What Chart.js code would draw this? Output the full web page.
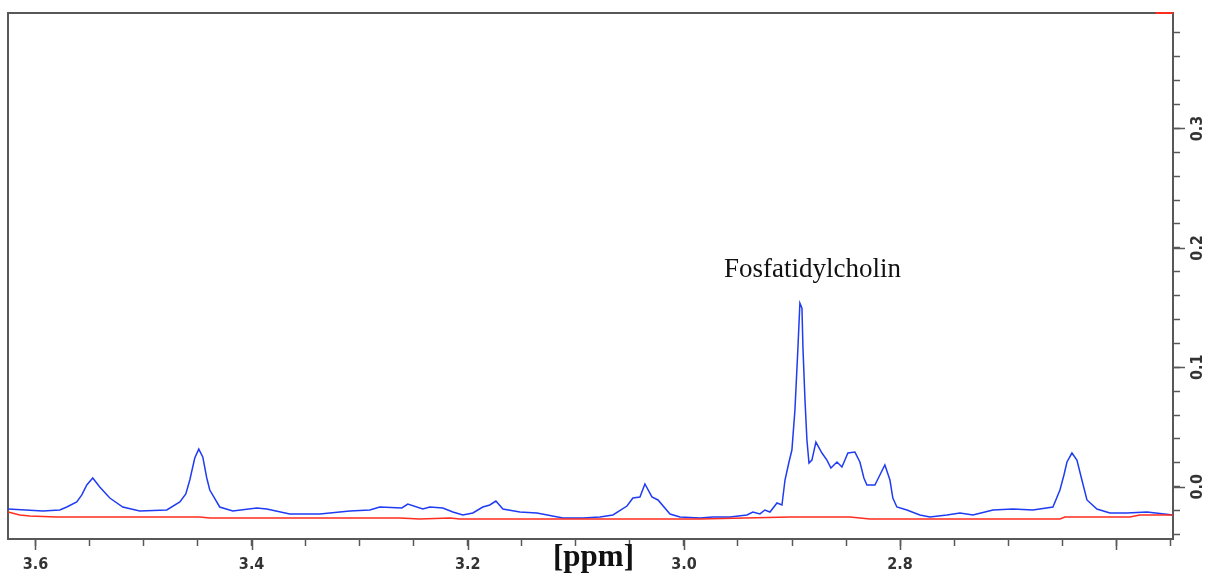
<!DOCTYPE html>
<html>
<head>
<meta charset="utf-8">
<title>NMR spektrum</title>
<script src="https://cdn.jsdelivr.net/npm/chart.js@4/dist/chart.umd.min.js"></script>
<style>
  html, body { margin: 0; padding: 0; background: #fff; }
  #wrap { width: 1210px; height: 577px; }
</style>
</head>
<body>
<div id="wrap"><canvas id="nmrChart" width="1210" height="577"></canvas></div>
<script>
// spektrum (modra) - chemicky posun v ppm a intenzita
const blueShift = [3.6254,3.5932,3.5775,3.5710,3.5618,3.5571,3.5525,3.5470,3.5405,3.5312,
  3.5192,3.5035,3.4785,3.4664,3.4609,3.4572,3.4526,3.4489,3.4452,3.4415,
  3.4387,3.4295,3.4174,3.3952,3.3860,3.3647,3.3369,3.3091,3.2906,3.2814,
  3.2610,3.2555,3.2416,3.2351,3.2231,3.2138,3.2046,3.1953,3.1861,3.1796,
  3.1740,3.1675,3.1518,3.1360,3.1120,3.0935,3.0777,3.0657,3.0527,3.0472,
  3.0407,3.0361,3.0296,3.0240,3.0129,3.0037,2.9852,2.9732,2.9574,2.9417,
  2.9362,2.9297,2.9251,2.9204,2.9139,2.9093,2.9065,2.9028,2.9001,2.8973,
  2.8945,2.8927,2.8908,2.8899,2.8880,2.8862,2.8843,2.8816,2.8779,2.8723,
  2.8677,2.8640,2.8584,2.8538,2.8483,2.8418,2.8372,2.8335,2.8307,2.8233,
  2.8187,2.8141,2.8094,2.8067,2.8030,2.7937,2.7817,2.7724,2.7567,2.7446,
  2.7326,2.7141,2.6956,2.6771,2.6586,2.6521,2.6484,2.6456,2.6410,2.6364,
  2.6318,2.6271,2.6179,2.6059,2.5901,2.5716,2.5475];
const blueIntensity = [-0.0187,-0.0203,-0.0195,-0.0170,-0.0128,-0.0069,0.0014,0.0073,-0.0003,-0.0095,
  -0.0170,-0.0203,-0.0195,-0.0128,-0.0061,0.0056,0.0240,0.0315,0.0249,0.0073,
  -0.0028,-0.0170,-0.0203,-0.0178,-0.0187,-0.0229,-0.0229,-0.0203,-0.0195,-0.0170,
  -0.0178,-0.0145,-0.0187,-0.0170,-0.0178,-0.0212,-0.0237,-0.0220,-0.0170,-0.0153,
  -0.0120,-0.0187,-0.0212,-0.0220,-0.0262,-0.0262,-0.0254,-0.0237,-0.0162,-0.0095,
  -0.0086,0.0023,-0.0086,-0.0111,-0.0229,-0.0254,-0.0262,-0.0254,-0.0254,-0.0237,
  -0.0212,-0.0228,-0.0195,-0.0212,-0.0136,-0.0153,0.0056,0.0207,0.0307,0.0642,
  0.1169,0.1537,0.1496,0.1169,0.0726,0.0391,0.0198,0.0223,0.0374,0.0282,
  0.0223,0.0156,0.0207,0.0165,0.0282,0.0290,0.0207,0.0073,0.0014,0.0014,
  0.0098,0.0182,0.0056,-0.0095,-0.0170,-0.0195,-0.0237,-0.0254,-0.0237,-0.0220,
  -0.0237,-0.0195,-0.0187,-0.0195,-0.0170,-0.0028,0.0098,0.0207,0.0282,0.0223,
  0.0056,-0.0111,-0.0187,-0.0220,-0.0220,-0.0212,-0.0237];

// referencni spektrum (cervena)
const redShift = [3.6254,3.6145,3.6053,3.5803,3.5127,3.4480,3.4387,3.2629,3.2444,3.2166,
  3.2074,3.0777,2.9852,2.9019,2.8464,2.8279,2.6521,2.6475,2.5873,2.5781,2.5475];
const redIntensity = [-0.0212,-0.0237,-0.0245,-0.0254,-0.0254,-0.0254,-0.0262,-0.0262,-0.0270,-0.0262,
  -0.0270,-0.0270,-0.0270,-0.0254,-0.0254,-0.0270,-0.0270,-0.0254,-0.0254,-0.0237,-0.0237];
const redTopShift = [2.5636, 2.5475];
const redTopIntensity = [0.3967, 0.3967];

// osy
const xTickLabels = ["3.6", "3.4", "3.2", "3.0", "2.8"];
const xMajorTicks = [3.6, 3.4, 3.2, 3.0, 2.8, 2.6];
const yTickLabels = ["0.0", "0.1", "0.2", "0.3"];
const xMin = 2.5475, xMax = 3.6254;
const yMin = -0.0438, yMax = 0.3967;
const axisTitle = "[ppm]";
const peakLabel = { text: "Fosfatidylcholin", x: 2.8811, y: 0.1755 };

const axisColor = "#585858";
const tickFont = "'DejaVu Sans Condensed', 'DejaVu Sans', sans-serif";

const toPoints = (xs, ys) => xs.map((v, i) => ({ x: v, y: ys[i] }));

// ramecek pod krivkami, pak dlouhe ticky, popisky osy y a anotace
const decorPlugin = {
  id: "nmrDecor",
  beforeDatasetsDraw(chart) {
    const ctx = chart.ctx;
    const a = chart.chartArea;
    ctx.save();
    ctx.strokeStyle = axisColor;
    ctx.lineWidth = 2;
    ctx.beginPath();
    ctx.moveTo(a.left, a.bottom);
    ctx.lineTo(a.left, a.top);
    ctx.lineTo(a.right, a.top);
    ctx.stroke();
    ctx.restore();
  },
  afterDraw(chart) {
    const ctx = chart.ctx;
    const a = chart.chartArea;
    const x = chart.scales.x;
    const y = chart.scales.y;
    ctx.save();
    ctx.strokeStyle = axisColor;
    ctx.lineWidth = 1.5;
    ctx.beginPath();
    xMajorTicks.forEach((v) => {
      const px = Math.round(x.getPixelForValue(v)) + 0.5;
      ctx.moveTo(px, a.bottom);
      ctx.lineTo(px, a.bottom + 11);
    });
    yTickLabels.forEach((t) => {
      const py = Math.round(y.getPixelForValue(parseFloat(t))) + 0.5;
      ctx.moveTo(a.right, py);
      ctx.lineTo(a.right + 12, py);
    });
    ctx.stroke();

    ctx.fillStyle = "#333";
    ctx.font = "bold 16px " + tickFont;
    ctx.textAlign = "center";
    ctx.textBaseline = "middle";
    yTickLabels.forEach((t) => {
      const py = y.getPixelForValue(parseFloat(t));
      ctx.save();
      ctx.translate(a.right + 25, py);
      ctx.rotate(-Math.PI / 2);
      ctx.fillText(t, 0, 0);
      ctx.restore();
    });

    ctx.fillStyle = "#111";
    ctx.textBaseline = "alphabetic";
    ctx.font = "bold 31px 'Liberation Serif', 'DejaVu Serif', serif";
    ctx.fillText(axisTitle, (a.left + a.right) / 2 + 3, 566);

    ctx.font = "27px 'Liberation Serif', 'DejaVu Serif', serif";
    ctx.fillText(peakLabel.text, x.getPixelForValue(peakLabel.x), y.getPixelForValue(peakLabel.y));
    ctx.restore();
  },
};

const ctx = document.getElementById("nmrChart").getContext("2d");
new Chart(ctx, {
  type: "line",
  data: {
    datasets: [
      {
        data: toPoints(redShift, redIntensity),
        borderColor: "#ff2d1e",
        borderWidth: 1.5,
        pointRadius: 0,
        tension: 0,
        fill: false,
      },
      {
        data: toPoints(blueShift, blueIntensity),
        borderColor: "#1f3cf2",
        borderWidth: 1.5,
        pointRadius: 0,
        tension: 0,
        fill: false,
      },
      {
        data: toPoints(redTopShift, redTopIntensity),
        borderColor: "#ff2d1e",
        borderWidth: 2,
        pointRadius: 0,
        fill: false,
        clip: false,
      },
    ],
  },
  options: {
    responsive: false,
    animation: false,
    layout: { padding: { left: 8, top: 13, right: 30, bottom: 4 } },
    plugins: {
      legend: { display: false },
      tooltip: { enabled: false },
    },
    scales: {
      x: {
        type: "linear",
        reverse: true,
        min: xMin,
        max: xMax,
        position: "bottom",
        afterFit: (scale) => { scale.height = 34; },
        grid: { drawOnChartArea: false, tickLength: 7, tickColor: axisColor, tickWidth: 1.5 },
        border: { color: axisColor, width: 2 },
        ticks: {
          stepSize: 0.05,
          maxTicksLimit: 50,
          autoSkip: false,
          includeBounds: false,
          maxRotation: 0,
          padding: 9,
          color: "#333",
          font: { family: tickFont, size: 16, weight: "bold" },
          callback: function (v) {
            const lbl = Number(v).toFixed(1);
            const onStep = Math.abs(v * 5 - Math.round(v * 5)) < 1e-6;
            return onStep && xTickLabels.includes(lbl) ? lbl : "";
          },
        },
      },
      y: {
        type: "linear",
        position: "right",
        min: yMin,
        max: yMax,
        grid: { drawOnChartArea: false, tickLength: 7, tickColor: axisColor, tickWidth: 1.5 },
        border: { color: axisColor, width: 2 },
        ticks: {
          display: false,
          stepSize: 0.02,
          maxTicksLimit: 50,
          includeBounds: false,
        },
      },
    },
  },
  plugins: [decorPlugin],
});
</script>
</body>
</html>
